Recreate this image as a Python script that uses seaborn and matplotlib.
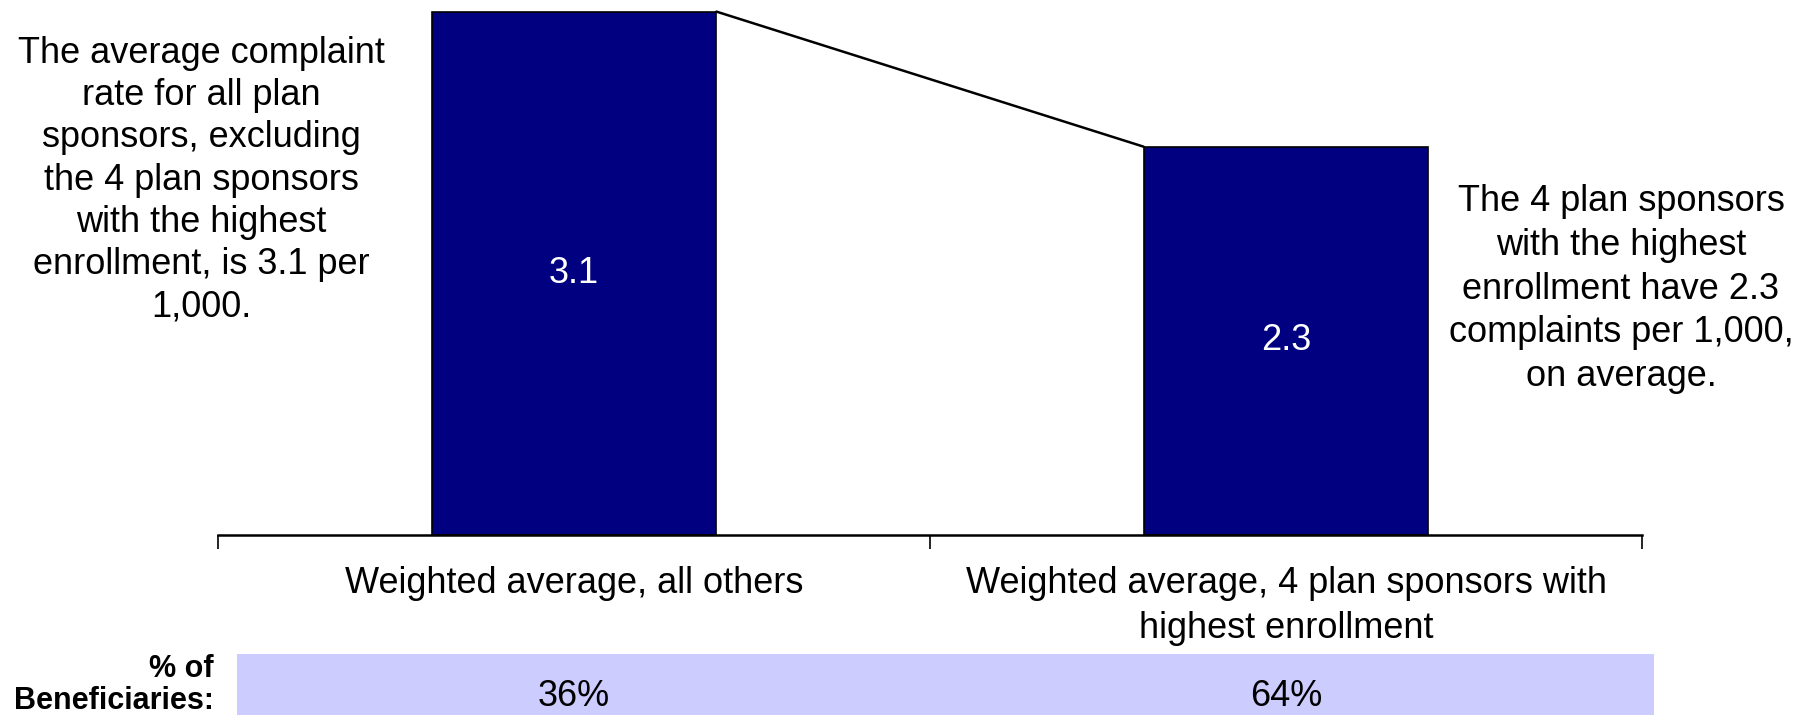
import matplotlib
matplotlib.use("Agg")
import matplotlib.pyplot as plt
import seaborn as sns
import pandas as pd

# Chart data
categories = ["Weighted average, all others",
              "Weighted average, 4 plan sponsors with\nhighest enrollment"]
rates = [3.1, 2.3]
rate_labels = ["3.1", "2.3"]
beneficiary_share = ["36%", "64%"]
left_note = ("The average complaint\nrate for all plan\nsponsors, excluding\n"
             "the 4 plan sponsors\nwith the highest\nenrollment, is 3.1 per\n1,000.")
right_note = ("The 4 plan sponsors\nwith the highest\nenrollment have 2.3\n"
              "complaints per 1,000,\non average.")
share_title = "% of\nBeneficiaries:"

sns.set_theme(style="white")
plt.rcParams["font.family"] = ["Liberation Sans", "DejaVu Sans"]
plt.rcParams["text.color"] = "black"
plt.rcParams["xtick.color"] = "black"
plt.rcParams["xtick.labelcolor"] = "black"

W, H = 1816, 715
fig = plt.figure(figsize=(W / 100, H / 100), dpi=100)
ax = fig.add_axes([218 / W, 1 - 535 / H, (1642 - 218) / W, (535 - 11.6) / H])

df = pd.DataFrame({"category": categories, "rate": rates})
sns.barplot(data=df, x="category", y="rate", color="#000080", saturation=1,
            width=0.4, edgecolor="black", linewidth=1.2, ax=ax)
for p in ax.patches:
    p.set_clip_on(False)

ax.bar_label(ax.containers[0], labels=rate_labels, label_type="center",
             color="white", fontsize=26)

# connector between bar tops
half = 0.2
ax.plot([0 + half, 1 - half], [rates[0], rates[1]], color="black", lw=1.8,
        clip_on=False, zorder=5)

ax.set_xlim(-0.5, 1.5)
ax.set_ylim(0, rates[0])
ax.set_xlabel("")
ax.set_ylabel("")
ax.set_yticks([])
for s in ["top", "right", "left"]:
    ax.spines[s].set_visible(False)
ax.spines["bottom"].set_linewidth(1.8)
ax.spines["bottom"].set_color("black")

ax.set_xticks([0, 1])
ax.set_xticklabels(categories, fontsize=26, linespacing=1.4)
ax.tick_params(axis="x", which="major", length=0, pad=22)
ax.set_xticks([-0.5, 0.5, 1.5], minor=True)
ax.tick_params(axis="x", which="minor", length=10, width=1.2, color="black",
               direction="out", bottom=True)

# side notes
fig.text(201 / W, 1 - 180 / H, left_note, ha="center", va="center",
         fontsize=26, linespacing=1.27)
fig.text(1621 / W, 1 - 289 / H, right_note, ha="center", va="center",
         fontsize=26, linespacing=1.32)

# beneficiary share band
bx0, bx1 = 237, 1654
band = fig.add_axes([bx0 / W, 0, (bx1 - bx0) / W, (715 - 654) / H])
band.set_facecolor("#CCCCFF")
band.set_xlim((bx0 - 218) / 712 - 0.5, (bx1 - 218) / 712 - 0.5)
band.set_ylim(0, 1)
band.set_xticks([])
band.set_yticks([])
for s in band.spines.values():
    s.set_visible(False)
for i, lab in enumerate(beneficiary_share):
    band.text(i, 0.3, lab, ha="center", va="center", fontsize=26)

fig.text(214 / W, 1 - 685 / H, share_title, ha="right", va="center",
         fontsize=22, fontweight="bold", linespacing=1.05)

fig.savefig("out.png", dpi=100)
